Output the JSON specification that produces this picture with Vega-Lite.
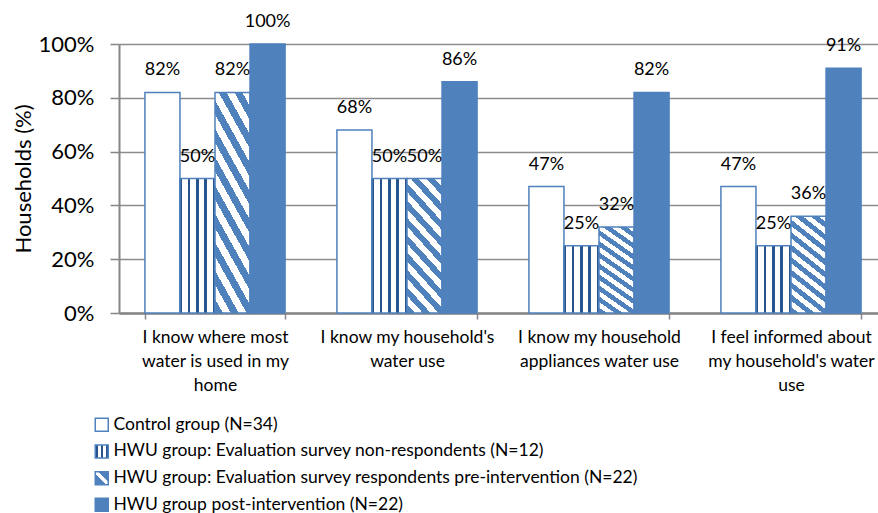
{
  "$schema": "https://vega.github.io/schema/vega-lite/v6.json",
  "width": 768,
  "height": 269,
  "autosize": {"type": "none"},
  "padding": {"left": 119, "top": 44, "right": -9, "bottom": 200},
  "background": "white",
  "config": {
    "font": "Lato",
    "view": {"stroke": null},
    "axis": {
      "labelColor": "#000000",
      "titleColor": "#000000",
      "titleFontWeight": "normal",
      "domainColor": "#868686",
      "tickColor": "#868686",
      "gridColor": "#8c8c8c"
    }
  },
  "data": {
    "values": [
      {"item": "I know where most water is used in my home", "group": "Control group (N=34)", "share": 0.82},
      {"item": "I know where most water is used in my home", "group": "HWU group: Evaluation survey non-respondents (N=12)", "share": 0.50},
      {"item": "I know where most water is used in my home", "group": "HWU group: Evaluation survey respondents pre-intervention (N=22)", "share": 0.82},
      {"item": "I know where most water is used in my home", "group": "HWU group post-intervention (N=22)", "share": 1.00},
      {"item": "I know my household's water use", "group": "Control group (N=34)", "share": 0.68},
      {"item": "I know my household's water use", "group": "HWU group: Evaluation survey non-respondents (N=12)", "share": 0.50},
      {"item": "I know my household's water use", "group": "HWU group: Evaluation survey respondents pre-intervention (N=22)", "share": 0.50},
      {"item": "I know my household's water use", "group": "HWU group post-intervention (N=22)", "share": 0.86},
      {"item": "I know my household appliances water use", "group": "Control group (N=34)", "share": 0.47},
      {"item": "I know my household appliances water use", "group": "HWU group: Evaluation survey non-respondents (N=12)", "share": 0.25},
      {"item": "I know my household appliances water use", "group": "HWU group: Evaluation survey respondents pre-intervention (N=22)", "share": 0.32},
      {"item": "I know my household appliances water use", "group": "HWU group post-intervention (N=22)", "share": 0.82},
      {"item": "I feel informed about my household's water use", "group": "Control group (N=34)", "share": 0.47},
      {"item": "I feel informed about my household's water use", "group": "HWU group: Evaluation survey non-respondents (N=12)", "share": 0.25},
      {"item": "I feel informed about my household's water use", "group": "HWU group: Evaluation survey respondents pre-intervention (N=22)", "share": 0.36},
      {"item": "I feel informed about my household's water use", "group": "HWU group post-intervention (N=22)", "share": 0.91}
    ]
  },
  "encoding": {
    "x": {
      "field": "item",
      "type": "nominal",
      "sort": [
        "I know where most water is used in my home",
        "I know my household's water use",
        "I know my household appliances water use",
        "I feel informed about my household's water use"
      ],
      "scale": {"paddingInner": 0.27, "paddingOuter": 0.135},
      "axis": {
        "title": null,
        "labelAngle": 0,
        "labelFontSize": 17.5,
        "labelLineHeight": 24,
        "labelPadding": 9,
        "labelLimit": 300,
        "tickSize": 6,
        "tickWidth": 1.5,
        "tickBand": "extent",
        "domainWidth": 2.5,
        "labelExpr": "datum.value == 'I know where most water is used in my home' ? ['I know where most', 'water is used in my', 'home'] : datum.value == \"I know my household's water use\" ? ['I know my household\\'s', 'water use'] : datum.value == 'I know my household appliances water use' ? ['I know my household', 'appliances water use'] : datum.value == \"I feel informed about my household's water use\" ? ['I feel informed about', 'my household\\'s water', 'use'] : ''"
      }
    },
    "xOffset": {
      "field": "group",
      "type": "nominal",
      "sort": [
        "Control group (N=34)",
        "HWU group: Evaluation survey non-respondents (N=12)",
        "HWU group: Evaluation survey respondents pre-intervention (N=22)",
        "HWU group post-intervention (N=22)"
      ],
      "scale": {"paddingInner": 0, "paddingOuter": 0}
    },
    "y": {
      "field": "share",
      "type": "quantitative",
      "scale": {"domain": [0, 1], "nice": false},
      "axis": {
        "title": "Households (%)",
        "titleFontSize": 22,
        "titlePadding": 3,
        "format": ".0%",
        "values": [0, 0.2, 0.4, 0.6, 0.8, 1],
        "labelFontSize": 22,
        "labelPadding": 16,
        "tickSize": 9,
        "tickWidth": 1.5,
        "domainWidth": 2,
        "grid": true,
        "gridWidth": 1.5
      }
    }
  },
  "layer": [
    {
      "mark": {
        "type": "bar",
        "strokeWidth": 1.5,
        "fill": {
          "expr": "datum.group === 'Control group (N=34)' ? '#ffffff' : datum.group === 'HWU group: Evaluation survey non-respondents (N=12)' ? {gradient: 'linear', x1: 0, y1: 0, x2: 1, y2: 0, stops: [{offset: 0, color: '#27548f'}, {offset: 0.06, color: '#27548f'}, {offset: 0.06, color: '#ffffff'}, {offset: 0.24, color: '#ffffff'}, {offset: 0.24, color: '#27548f'}, {offset: 0.3, color: '#27548f'}, {offset: 0.3, color: '#ffffff'}, {offset: 0.47, color: '#ffffff'}, {offset: 0.47, color: '#27548f'}, {offset: 0.53, color: '#27548f'}, {offset: 0.53, color: '#ffffff'}, {offset: 0.7, color: '#ffffff'}, {offset: 0.7, color: '#27548f'}, {offset: 0.76, color: '#27548f'}, {offset: 0.76, color: '#ffffff'}, {offset: 0.94, color: '#ffffff'}, {offset: 0.94, color: '#27548f'}, {offset: 1, color: '#27548f'}]} : datum.group === 'HWU group: Evaluation survey respondents pre-intervention (N=22)' ? {gradient: 'linear', x1: 0, y1: 1, x2: 0.34, y2: -0.19, stops: [{offset: 0, color: '#4f81bd'}, {offset: 0.05, color: '#4f81bd'}, {offset: 0.05, color: '#ffffff'}, {offset: 0.1, color: '#ffffff'}, {offset: 0.1, color: '#4f81bd'}, {offset: 0.15, color: '#4f81bd'}, {offset: 0.15, color: '#ffffff'}, {offset: 0.2, color: '#ffffff'}, {offset: 0.2, color: '#4f81bd'}, {offset: 0.25, color: '#4f81bd'}, {offset: 0.25, color: '#ffffff'}, {offset: 0.3, color: '#ffffff'}, {offset: 0.3, color: '#4f81bd'}, {offset: 0.35, color: '#4f81bd'}, {offset: 0.35, color: '#ffffff'}, {offset: 0.4, color: '#ffffff'}, {offset: 0.4, color: '#4f81bd'}, {offset: 0.45, color: '#4f81bd'}, {offset: 0.45, color: '#ffffff'}, {offset: 0.5, color: '#ffffff'}, {offset: 0.5, color: '#4f81bd'}, {offset: 0.55, color: '#4f81bd'}, {offset: 0.55, color: '#ffffff'}, {offset: 0.6, color: '#ffffff'}, {offset: 0.6, color: '#4f81bd'}, {offset: 0.65, color: '#4f81bd'}, {offset: 0.65, color: '#ffffff'}, {offset: 0.7, color: '#ffffff'}, {offset: 0.7, color: '#4f81bd'}, {offset: 0.75, color: '#4f81bd'}, {offset: 0.75, color: '#ffffff'}, {offset: 0.8, color: '#ffffff'}, {offset: 0.8, color: '#4f81bd'}, {offset: 0.85, color: '#4f81bd'}, {offset: 0.85, color: '#ffffff'}, {offset: 0.9, color: '#ffffff'}, {offset: 0.9, color: '#4f81bd'}, {offset: 0.95, color: '#4f81bd'}, {offset: 0.95, color: '#ffffff'}, {offset: 1, color: '#ffffff'}]} : datum.group ? '#4f81bd' : datum.value === 'Control group (N=34)' ? '#ffffff' : datum.value === 'HWU group: Evaluation survey non-respondents (N=12)' ? {gradient: 'linear', x1: 0, y1: 0, x2: 1, y2: 0, stops: [{offset: 0, color: '#27548f'}, {offset: 0.2, color: '#27548f'}, {offset: 0.2, color: '#ffffff'}, {offset: 0.44, color: '#ffffff'}, {offset: 0.44, color: '#27548f'}, {offset: 0.56, color: '#27548f'}, {offset: 0.56, color: '#ffffff'}, {offset: 0.8, color: '#ffffff'}, {offset: 0.8, color: '#27548f'}, {offset: 1, color: '#27548f'}]} : datum.value === 'HWU group: Evaluation survey respondents pre-intervention (N=22)' ? {gradient: 'linear', x1: 0, y1: 1, x2: 1, y2: 0, stops: [{offset: 0, color: '#4f81bd'}, {offset: 0.4, color: '#4f81bd'}, {offset: 0.4, color: '#ffffff'}, {offset: 0.62, color: '#ffffff'}, {offset: 0.62, color: '#4f81bd'}, {offset: 1, color: '#4f81bd'}]} : '#4f81bd'"
        }
      },
      "encoding": {
        "stroke": {
          "field": "group",
          "type": "nominal",
          "scale": {
            "domain": [
              "Control group (N=34)",
              "HWU group: Evaluation survey non-respondents (N=12)",
              "HWU group: Evaluation survey respondents pre-intervention (N=22)",
              "HWU group post-intervention (N=22)"
            ],
            "range": ["#4f81bd", "#4f81bd", "#4f81bd", "#4f81bd"]
          },
          "legend": {
            "orient": "none",
            "legendX": -26,
            "legendY": 372,
            "direction": "vertical",
            "title": null,
            "padding": 0,
            "symbolType": "square",
            "symbolSize": 169,
            "symbolStrokeWidth": 1.5,
            "symbolOpacity": 1,
            "labelFontSize": 17.5,
            "labelColor": "#000000",
            "labelLimit": 800,
            "labelOffset": 3,
            "rowPadding": 6.7
          }
        }
      }
    },
    {
      "mark": {"type": "text", "baseline": "alphabetic", "dy": -17, "fontSize": 18, "color": "#000000"},
      "encoding": {
        "text": {"field": "share", "type": "quantitative", "format": ".0%"}
      }
    }
  ]
}
